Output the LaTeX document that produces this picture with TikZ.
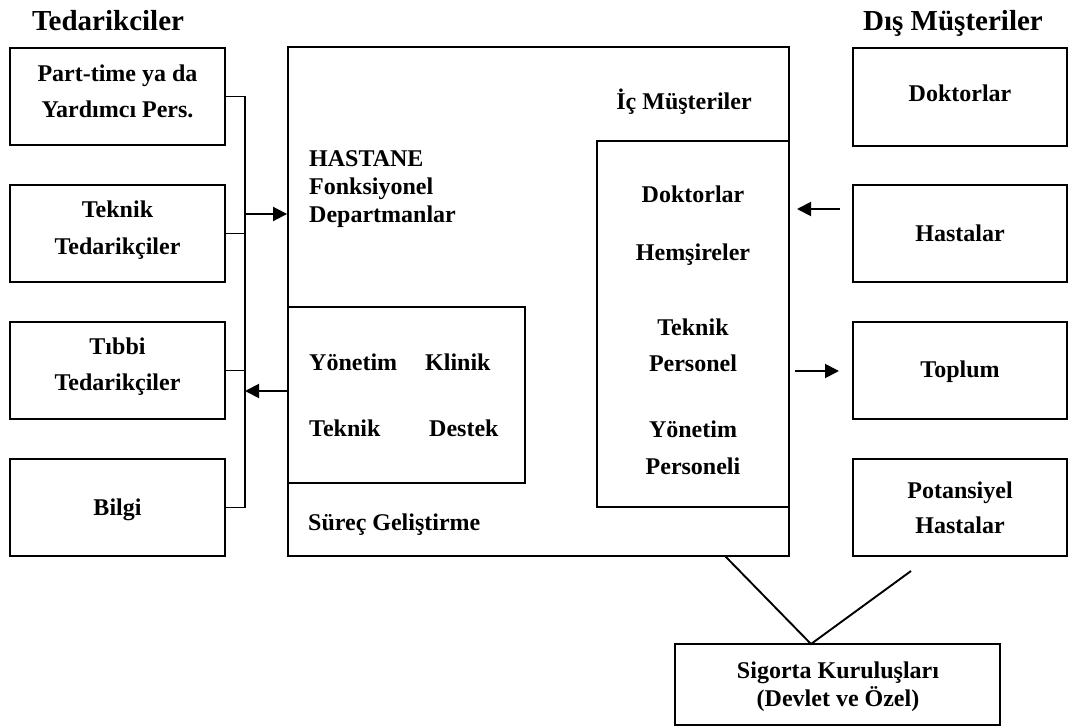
\documentclass[tikz,border=0pt]{standalone}
\usepackage{fontspec}
\setmainfont{Liberation Serif}
\usetikzlibrary{arrows.meta}
\begin{document}
\begin{tikzpicture}[x=1pt,y=-1pt,
  box/.style={draw, line width=1.9pt, inner sep=0pt},
  txt/.style={inner sep=0pt, font=\bfseries\fontsize{24}{28}\selectfont},
  head/.style={inner sep=0pt, font=\bfseries\fontsize{29}{32}\selectfont},
  ln/.style={line width=1.9pt},
  arr/.style={line width=1.9pt, -{Triangle[length=14pt,width=14pt]}}
]
\fill[white] (0,0) rectangle (1069,727);
\useasboundingbox (0,0) rectangle (1069,727);

% column headings
\node[head, anchor=base] (hsup) at (108,31) {Tedarikciler};
\node[head, anchor=base] (hext) at (953,31) {Dış Müşteriler};

% suppliers (left column)
\node[box, minimum width=215pt, minimum height=97pt] (tp) at (117.5,96.5) {};
\node[box, minimum width=215pt, minimum height=97pt] (tt) at (117.5,233.5) {};
\node[box, minimum width=215pt, minimum height=97pt] (tb) at (117.5,370.5) {};
\node[box, minimum width=215pt, minimum height=97pt] (bi) at (117.5,507.5) {};
\node[txt, anchor=base] (tp1) at (117.5,82) {Part-time ya da};
\node[txt, anchor=base] (tp2) at (117.5,118) {Yardımcı Pers.};
\node[txt, anchor=base] (tt1) at (117.5,218) {Teknik};
\node[txt, anchor=base] (tt2) at (117.5,255) {Tedarikçiler};
\node[txt, anchor=base] (tb1) at (117.5,355) {Tıbbi};
\node[txt, anchor=base] (tb2) at (117.5,391) {Tedarikçiler};
\node[txt, anchor=base] (bi1) at (117.5,515) {Bilgi};

% hospital block
\node[box, minimum width=501pt, minimum height=509pt] (hosp) at (538.5,301.5) {};
\node[box, minimum width=237pt, minimum height=176pt] (dept) at (406.5,395) {};
\node[box, minimum width=192pt, minimum height=366pt] (inner) at (693,324) {};

\node[txt, anchor=base west] (h1) at (309,167) {HASTANE};
\node[txt, anchor=base west] (h2) at (309,195) {Fonksiyonel};
\node[txt, anchor=base west] (h3) at (309,223) {Departmanlar};
\node[txt, anchor=base] (ic) at (684,110) {İç Müşteriler};
\node[txt, anchor=base west] (d1) at (309,371) {Yönetim};
\node[txt, anchor=base west] (d2) at (425,371) {Klinik};
\node[txt, anchor=base west] (d3) at (309,436) {Teknik};
\node[txt, anchor=base west] (d4) at (429,436) {Destek};
\node[txt, anchor=base west] (sg) at (308,530) {Süreç Geliştirme};

\node[txt, anchor=base] (i1) at (693,203) {Doktorlar};
\node[txt, anchor=base] (i2) at (693,261) {Hemşireler};
\node[txt, anchor=base] (i3) at (693,336) {Teknik};
\node[txt, anchor=base] (i4) at (693,372) {Personel};
\node[txt, anchor=base] (i5) at (693,437) {Yönetim};
\node[txt, anchor=base] (i6) at (693,474) {Personeli};

% external customers (right column)
\node[box, minimum width=214pt, minimum height=98pt] (rd) at (960,97) {};
\node[box, minimum width=214pt, minimum height=97pt] (rh) at (960,233.5) {};
\node[box, minimum width=214pt, minimum height=97pt] (rt) at (960,370.5) {};
\node[box, minimum width=214pt, minimum height=97pt] (rp) at (960,507.5) {};
\node[txt, anchor=base] (rd1) at (960,102) {Doktorlar};
\node[txt, anchor=base] (rh1) at (960,242) {Hastalar};
\node[txt, anchor=base] (rt1) at (960,378) {Toplum};
\node[txt, anchor=base] (rp1) at (960,498) {Potansiyel};
\node[txt, anchor=base] (rp2) at (960,533) {Hastalar};

% insurers
\node[box, minimum width=325pt, minimum height=81pt] (ins) at (837.5,684.5) {};
\node[txt, anchor=base] (ins1) at (838,678) {Sigorta Kuruluşları};
\node[txt, anchor=base] (ins2) at (838,706) {(Devlet ve Özel)};

% supplier bracket
\coordinate (j1) at (245,96.5);
\coordinate (j4) at (245,507.5);
\draw[ln] (tp.east) -- (j1) -- (j4) -- (bi.east);
\draw[ln] (tt.east) -- (tt.east -| j1);
\draw[ln] (tb.east) -- (tb.east -| j1);

% flows between suppliers and hospital
\coordinate (a1) at (245,214);
\coordinate (a2) at (245,391);
\draw[arr] (a1) -- (a1 -| hosp.west);
\draw[arr] (a2 -| hosp.west) -- (a2);

% flows between hospital and external customers
\coordinate (a3) at (840,209);
\coordinate (a3e) at (797,209);
\coordinate (a4) at (795,371);
\coordinate (a4e) at (839,371);
\draw[arr] (a3) -- (a3e);
\draw[arr] (a4) -- (a4e);

% links to insurers
\coordinate (l1) at (725,556);
\coordinate (apex) at (811,644);
\coordinate (l2) at (911,571);
\draw[ln] (l1) -- (apex) -- (l2);
\end{tikzpicture}
\end{document}
